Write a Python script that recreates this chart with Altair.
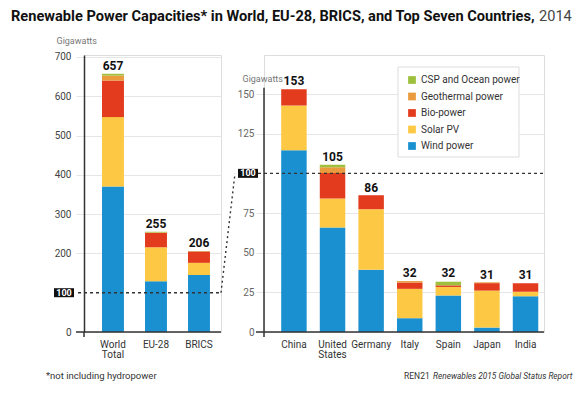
import altair as alt
import pandas as pd

# ---------------- data ----------------
groups = ["World Total", "EU-28", "BRICS"]
group_wind = [370, 129, 145]
group_solar = [177, 87, 31]
group_bio = [93, 36, 29]
group_geo = [12.8, 1.0, 0.5]
group_csp = [4.4, 2.0, 0.5]
group_totals = [657, 255, 206]

countries = ["China", "United States", "Germany", "Italy", "Spain", "Japan", "India"]
country_wind = [114.6, 65.9, 39.2, 8.7, 23.0, 2.8, 22.5]
country_solar = [28.2, 18.3, 38.2, 18.5, 5.4, 23.3, 2.8]
country_bio = [10.2, 16.1, 8.8, 4.0, 1.0, 4.7, 5.5]
country_geo = [0, 3.5, 0, 0.9, 0, 0.5, 0]
country_csp = [0, 1.6, 0, 0, 2.3, 0, 0]
country_totals = [153, 105, 86, 32, 32, 31, 31]

sources = ["Wind power", "Solar PV", "Bio-power", "Geothermal power", "CSP and Ocean power"]
colors = ["#1a90d0", "#fdc945", "#e33b1d", "#e99b3e", "#9ec03c"]

left_ticks = [0, 200, 300, 400, 500, 600, 700]
right_ticks = [0, 25, 50, 75, 125, 150]
zoom_level = 100


def long_df(cats, series):
    rows = []
    for k, (src, vals) in enumerate(zip(sources, series)):
        for c, v in zip(cats, vals):
            rows.append({"cat": c, "src": src, "k": k, "val": v})
    return pd.DataFrame(rows)


df_left = long_df(groups, [group_wind, group_solar, group_bio, group_geo, group_csp])
df_right = long_df(countries, [country_wind, country_solar, country_bio, country_geo, country_csp])
tot_left = pd.DataFrame({"cat": groups, "total": group_totals})
tot_right = pd.DataFrame({"cat": countries, "total": country_totals})
one = pd.DataFrame({"a": [0]})

# ---------------- layout constants ----------------
W1, W2, H = 137, 280, 277
LMAX, RMAX = 705, 174.6
FONT = "Roboto"

color_scale = alt.Scale(domain=sources[::-1], range=colors[::-1])


def x_enc(cats, pi, po, al):
    return alt.X(
        "cat:N", sort=cats,
        scale=alt.Scale(paddingInner=pi, paddingOuter=po, align=al),
        axis=alt.Axis(title=None, labelExpr="split(datum.label, ' ')", domain=False,
                      ticks=False, labelAngle=0, labelFontSize=10, labelColor="#333",
                      labelPadding=7, labelFont=FONT, labelLineHeight=10),
    )


def y_enc(dmax, ticks, title_x, title_y, label_color, label_pad, domain):
    return alt.Y(
        "val:Q", stack="zero",
        scale=alt.Scale(domain=[0, dmax], nice=False, zero=True),
        axis=alt.Axis(title="Gigawatts", titleAngle=0, titleX=title_x, titleY=title_y,
                      titleAlign="left", titleBaseline="alphabetic", titleFontSize=9,
                      titleFontWeight="normal", titleColor="#777", titleFont=FONT,
                      values=ticks, grid=True, gridColor="#e6e6e6", tickColor="#e6e6e6",
                      tickSize=8, labelPadding=label_pad, labelFontSize=10,
                      labelColor=label_color, labelFont=FONT, domain=domain,
                      domainColor="#333", domainWidth=1.5),
    )


def panel(df, tot, cats, width, dmax, ticks, xparams, yparams, box_x, pre, extra, legend):
    bars = alt.Chart(df).mark_bar().encode(
        x=x_enc(cats, *xparams),
        y=y_enc(dmax, ticks, *yparams),
        color=alt.Color("src:N", scale=color_scale, legend=legend),
        order=alt.Order("k:Q"),
    )
    labels = alt.Chart(tot).mark_text(fontSize=12, fontWeight="bold", dy=-4,
                                      baseline="alphabetic", color="#111",
                                      font=FONT).encode(
        x=alt.X("cat:N", sort=cats), y=alt.Y("total:Q"), text="total:Q")
    dashed = alt.Chart(one).mark_rule(strokeDash=[3, 3], color="#333", strokeWidth=1.4).encode(
        y=alt.datum(zoom_level), x=alt.value(-6), x2=alt.value(width))
    box = alt.Chart(one).mark_rule(strokeWidth=9, color="#111", strokeCap="butt").encode(
        y=alt.datum(zoom_level), x=alt.value(box_x), x2=alt.value(box_x + 20))
    box_text = alt.Chart(one).mark_text(color="white", fontSize=9, fontWeight="bold",
                                        align="center", baseline="middle",
                                        font=FONT).encode(
        y=alt.datum(zoom_level), x=alt.value(box_x + 10), text=alt.value("100"))
    base = alt.Chart(one).mark_rule(color="#333", strokeWidth=1.5).encode(
        y=alt.datum(0), x=alt.value(-8), x2=alt.value(width))
    stub = alt.Chart(one).mark_rule(color="#333", strokeWidth=1.5).encode(
        x=alt.value(0), y=alt.value(H), y2=alt.value(H + 5))
    return alt.layer(bars, *pre, labels, dashed, box, box_text, base, stub, *extra).properties(
        width=width, height=H)


title_bold = alt.Chart(one).mark_text(
    align="left", baseline="alphabetic", fontSize=14.6, fontWeight="bold", color="#111",
    font=FONT).encode(
    x=alt.value(-73), y=alt.value(-34),
    text=alt.value("Renewable Power Capacities* in World, EU-28, BRICS, and Top Seven Countries,"))
title_year = alt.Chart(one).mark_text(
    align="left", baseline="alphabetic", fontSize=14.6, fontWeight="normal", color="#444",
    font=FONT).encode(x=alt.value(455), y=alt.value(-34), text=alt.value("2014"))
footnote = alt.Chart(one).mark_text(
    align="left", baseline="alphabetic", fontSize=9.5, color="#333", font=FONT).encode(
    x=alt.value(-38), y=alt.value(324), text=alt.value("*not including hydropower"))

left = panel(df_left, tot_left, groups, W1, LMAX, left_ticks,
             (0.49, 0.338, 0.62), (-28, -12, "#444", 5, True), -30, [],
             [title_bold, title_year, footnote], None)

yaxis_line = alt.Chart(one).mark_rule(color="#333", strokeWidth=1.5).encode(
    x=alt.value(0), y=alt.datum(0), y2=alt.datum(154))
diag = alt.Chart(one).mark_rule(strokeDash=[2, 3], color="#333", strokeWidth=1.4).encode(
    x=alt.value(-43), x2=alt.value(-29),
    y=alt.datum(zoom_level * RMAX / LMAX), y2=alt.datum(zoom_level))
legend_frame = alt.Chart(one).mark_rect(fill="white", stroke="#dddddd", strokeWidth=1).encode(
    x=alt.value(134), x2=alt.value(255), y=alt.value(12), y2=alt.value(102))
src_a = alt.Chart(one).mark_text(
    align="left", baseline="alphabetic", fontSize=8.3, color="#333", font=FONT,
    fontStyle="italic").encode(
    x=alt.value(169), y=alt.value(324),
    text=alt.value("Renewables 2015 Global Status Report"))
src_b = alt.Chart(one).mark_text(
    align="left", baseline="alphabetic", fontSize=8.5, color="#333", font=FONT).encode(
    x=alt.value(140), y=alt.value(324), text=alt.value("REN21"))

legend = alt.Legend(title=None, orient="none", legendX=134, legendY=11, padding=9,
                    symbolType="square", symbolSize=60, symbolStrokeWidth=0,
                    labelFontSize=10, labelColor="#333", labelFont=FONT, rowPadding=6.5)

right = panel(df_right, tot_right, countries, W2, RMAX, right_ticks,
              (0.34, 0.297, 0.75), (-22, 26, "#666", 2, False), -26, [legend_frame],
              [yaxis_line, diag, src_a, src_b], legend)

chart = alt.hconcat(left, right, spacing=43, bounds="flush").resolve_scale(
    color="independent", y="independent", x="independent"
).properties(
    padding={"left": 2, "top": 0, "right": 0, "bottom": 0}
).configure_view(stroke=None).configure(background="white")

chart.save("out.html", embed_options={"renderer": "svg", "actions": False})
